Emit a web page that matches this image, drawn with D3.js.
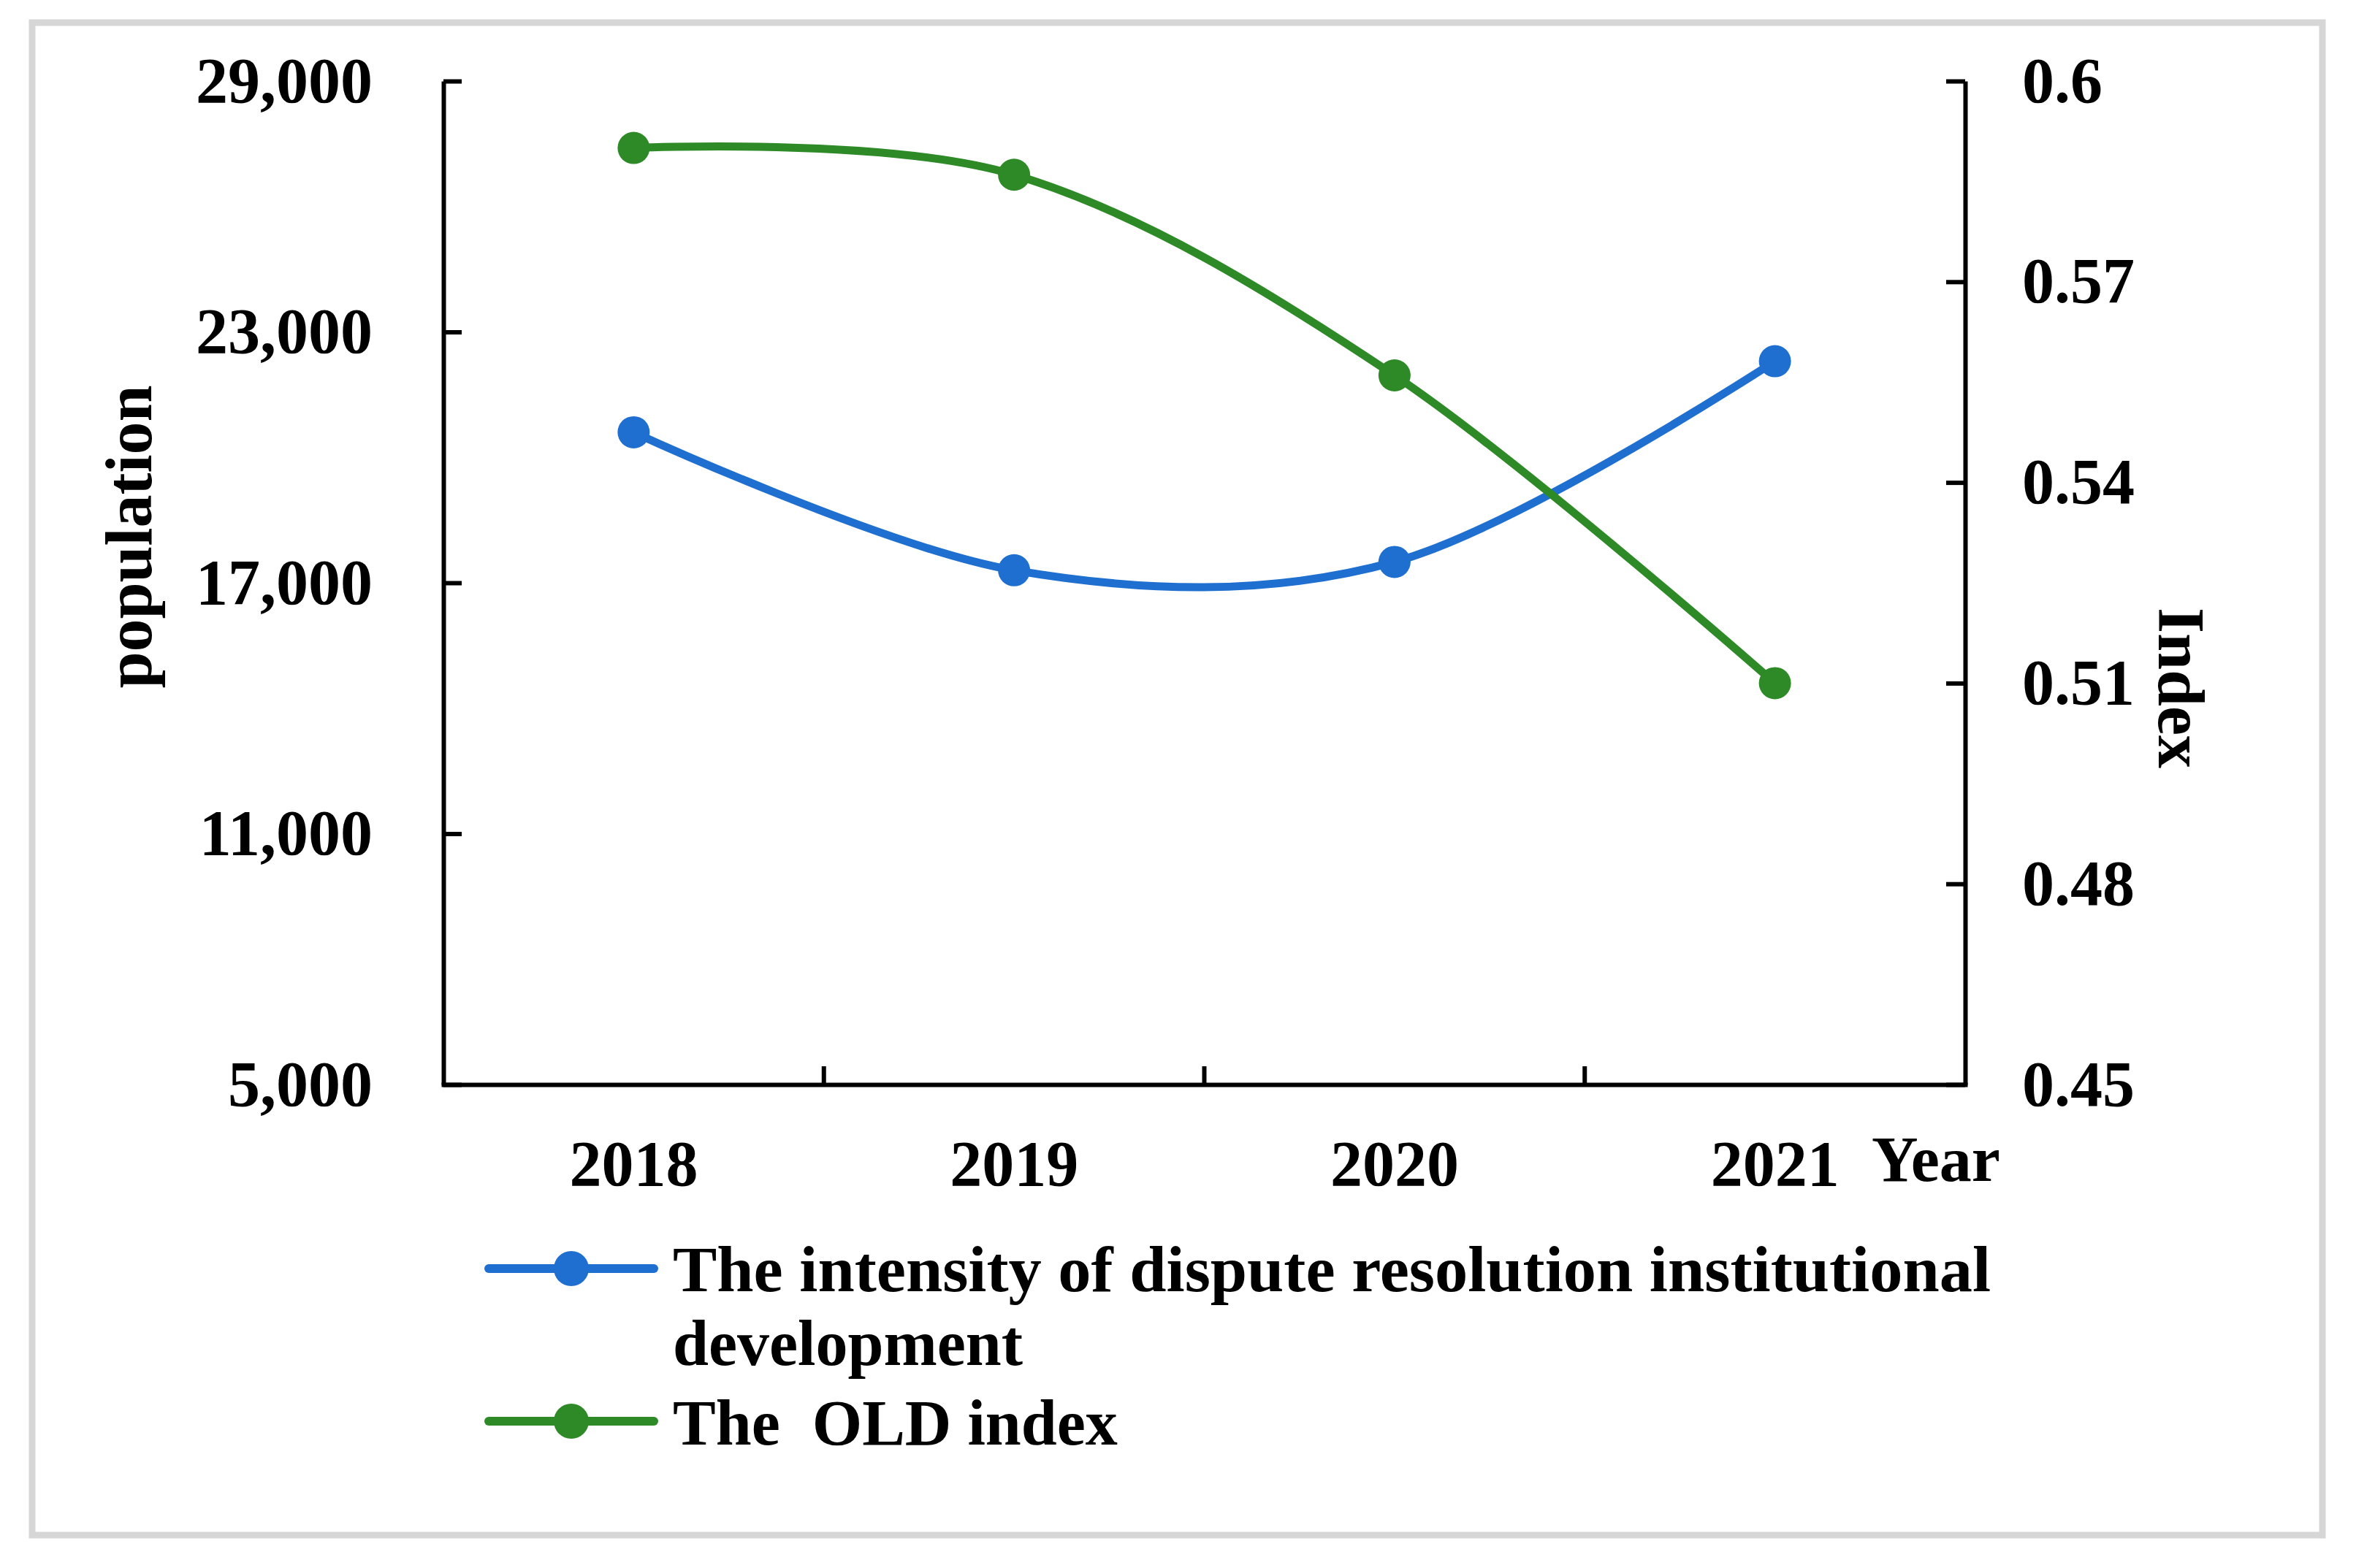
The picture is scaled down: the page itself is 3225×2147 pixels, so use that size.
<!DOCTYPE html>
<html>
<head>
<meta charset="utf-8">
<script src="https://cdn.jsdelivr.net/npm/d3@7"></script>
<style>
  body { margin: 0; background: #fff; }
  text { font-family: "Liberation Serif", "Times New Roman", serif; font-weight: bold; fill: #000; }
</style>
</head>
<body>
<div id="chart"></div>
<script>
// data
var years = ["2018", "2019", "2020", "2021"];
var intensity = [20600, 17300, 17500, 22300];   // left axis, population
var oldIndex = [0.590, 0.586, 0.556, 0.510];    // right axis, index
var leftTicks = [5000, 11000, 17000, 23000, 29000];
var rightTicks = [0.45, 0.48, 0.51, 0.54, 0.57, 0.6];
var seriesNames = ["The intensity of dispute resolution institutional", "The  OLD index"];

var W = 3225, H = 2147;
var plot = {left: 607, right: 2690, top: 111, bottom: 1485};
var blue = "#1e6fd0", green = "#2d8a26";

var svg = d3.select("#chart").append("svg")
    .attr("width", W)
    .attr("height", H);

svg.append("rect").attr("width", W).attr("height", H).attr("fill", "#fff");

// grey frame round the figure
svg.append("rect")
    .attr("x", 44).attr("y", 31)
    .attr("width", 3135).attr("height", 2071)
    .attr("fill", "none")
    .attr("stroke", "#d6d6d6")
    .attr("stroke-width", 9);

var x = d3.scaleBand().domain(years).range([plot.left, plot.right]).padding(0);
var yL = d3.scaleLinear().domain([5000, 29000]).range([plot.bottom, plot.top]);
var yR = d3.scaleLinear().domain([0.45, 0.6]).range([plot.bottom, plot.top]);

function styleAxis(g) {
  g.select(".domain").attr("stroke", "#000").attr("stroke-width", 6);
  g.selectAll(".tick line").attr("stroke", "#000").attr("stroke-width", 6);
  g.selectAll(".tick text").style("font-size", "88px");
}

// left axis, ticks point inwards
svg.append("g")
    .attr("transform", "translate(" + plot.left + ",0)")
    .call(d3.axisLeft(yL).tickValues(leftTicks).tickFormat(d3.format(","))
      .tickSizeInner(-25).tickSizeOuter(0).tickPadding(97))
    .call(styleAxis);

// right axis
svg.append("g")
    .attr("transform", "translate(" + plot.right + ",0)")
    .call(d3.axisRight(yR).tickValues(rightTicks).tickFormat(function(d) { return String(d); })
      .tickSizeInner(-26).tickSizeOuter(0).tickPadding(78))
    .call(styleAxis);

// bottom axis: labels at band centres, ticks at band edges
var xg = svg.append("g")
    .attr("transform", "translate(0," + plot.bottom + ")")
    .call(d3.axisBottom(x).tickSize(0).tickPadding(76))
    .call(styleAxis);
xg.select(".domain").attr("stroke-linecap", "square");

svg.append("g").selectAll("line")
    .data(years.slice(1))
    .enter().append("line")
    .attr("x1", function(d) { return x(d); })
    .attr("x2", function(d) { return x(d); })
    .attr("y1", plot.bottom)
    .attr("y2", plot.bottom - 25)
    .attr("stroke", "#000")
    .attr("stroke-width", 6);

// axis titles
svg.append("text")
    .attr("transform", "translate(207,735) rotate(-90)")
    .attr("text-anchor", "middle")
    .style("font-size", "90px")
    .text("population");

svg.append("text")
    .attr("transform", "translate(2955,942) rotate(90)")
    .attr("text-anchor", "middle")
    .style("font-size", "90px")
    .text("Index");

svg.append("text")
    .attr("x", 2562).attr("y", 1617)
    .style("font-size", "88px")
    .text("Year");

// lines
var curve = d3.curveCardinal.tension(0);
var lineL = d3.line()
    .x(function(d, i) { return x(years[i]) + x.bandwidth() / 2; })
    .y(function(d) { return yL(d); })
    .curve(curve);
var lineR = d3.line()
    .x(function(d, i) { return x(years[i]) + x.bandwidth() / 2; })
    .y(function(d) { return yR(d); })
    .curve(curve);

svg.append("path")
    .attr("d", lineL(intensity))
    .attr("fill", "none").attr("stroke", blue).attr("stroke-width", 11);
svg.append("g").selectAll("circle")
    .data(intensity).enter().append("circle")
    .attr("cx", function(d, i) { return x(years[i]) + x.bandwidth() / 2; })
    .attr("cy", function(d) { return yL(d); })
    .attr("r", 22)
    .attr("fill", blue);

svg.append("path")
    .attr("d", lineR(oldIndex))
    .attr("fill", "none").attr("stroke", green).attr("stroke-width", 11);
svg.append("g").selectAll("circle")
    .data(oldIndex).enter().append("circle")
    .attr("cx", function(d, i) { return x(years[i]) + x.bandwidth() / 2; })
    .attr("cy", function(d) { return yR(d); })
    .attr("r", 22)
    .attr("fill", green);

// legend
var legend = svg.append("g");
function legendKey(y, color) {
  legend.append("line")
      .attr("x1", 669).attr("x2", 895)
      .attr("y1", y).attr("y2", y)
      .attr("stroke", color).attr("stroke-width", 12)
      .attr("stroke-linecap", "round");
  legend.append("circle")
      .attr("cx", 782).attr("cy", y).attr("r", 24)
      .attr("fill", color);
}
legendKey(1737, blue);
legendKey(1946, green);

legend.append("text")
    .attr("x", 921).attr("y", 1768)
    .attr("textLength", 1804).attr("lengthAdjust", "spacingAndGlyphs")
    .style("font-size", "88px")
    .text(seriesNames[0]);
legend.append("text")
    .attr("x", 921).attr("y", 1869)
    .style("font-size", "88px")
    .text("development");
legend.append("text")
    .attr("x", 921).attr("y", 1978)
    .style("font-size", "88px")
    .style("white-space", "pre")
    .text(seriesNames[1]);
</script>
</body>
</html>
